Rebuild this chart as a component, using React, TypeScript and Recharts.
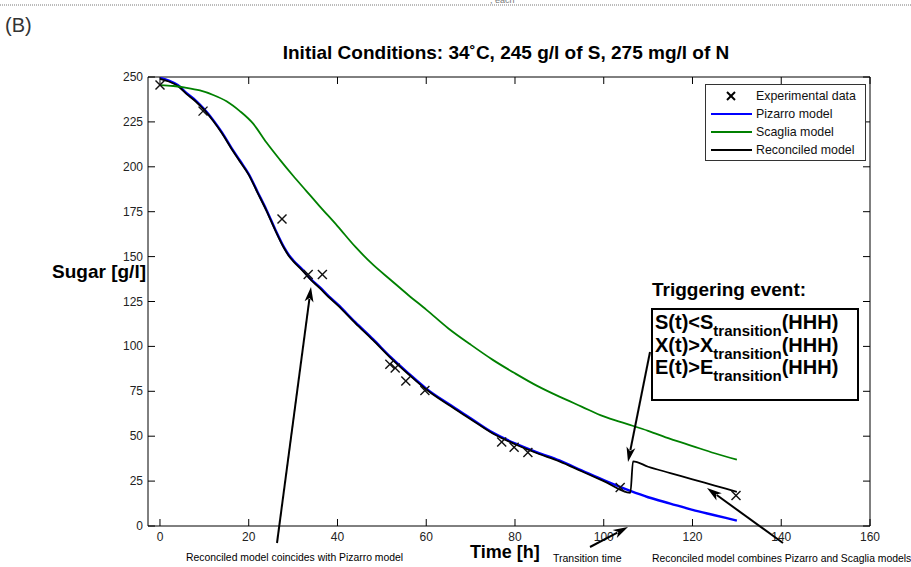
import React from 'react';
import { ComposedChart, Line, Scatter, XAxis, YAxis, ReferenceLine } from 'recharts';

// ---- data ----
const expT = [0, 9.7, 27.5, 33.4, 36.6, 51.8, 53, 55.4, 59.7, 77, 79.8, 82.9, 103.7, 129.8];
const expS = [245.5, 231, 171, 140, 140, 90, 88, 80.7, 75.5, 46.8, 43.9, 40.9, 21.5, 17];

const pizarroT = [0, 2, 4, 6, 8, 10, 12, 14, 16, 18, 20, 22, 24, 26, 28, 29, 30, 32, 34, 36, 38, 40, 44, 48, 52, 56, 60, 65, 70, 75, 80, 85, 90, 95, 100, 106, 110, 115, 120, 125, 130];
const pizarroS = [249.5, 248, 245.5, 241, 237, 232, 226, 219, 211, 203.5, 196, 186, 176, 165, 155, 151, 148, 143, 137.5, 133, 128, 123.5, 113.5, 104, 94, 85, 76.5, 68, 60, 52, 46, 41, 36.5, 31, 25.5, 19.5, 16, 12.5, 9, 6, 3];

const scagliaT = [0, 3, 6, 9, 12, 15, 18, 21, 24, 27, 30, 33, 36, 40, 44, 48, 52, 56, 60, 65, 70, 75, 80, 85, 90, 95, 100, 105, 110, 115, 120, 125, 130];
const scagliaS = [245.5, 245, 244, 242.5, 240, 236.5, 231, 224, 213.5, 204, 195, 186.5, 178, 167, 155.5, 145.5, 137, 128.5, 120.5, 110, 101, 92.5, 85, 78, 72, 66.5, 61, 57, 53, 48.5, 44.5, 40.5, 37];

const reconT = [0, 2, 4, 6, 8, 10, 12, 14, 16, 18, 20, 22, 24, 26, 28, 29, 30, 32, 34, 36, 38, 40, 44, 48, 52, 56, 60, 65, 70, 75, 80, 85, 90, 95, 100, 106, 106.6, 110, 115, 120, 125, 130];
const reconS = [249, 247.5, 245, 240.5, 236.5, 231.5, 225.5, 218.5, 210.5, 203, 195.5, 185.5, 175.5, 164.5, 154.5, 150.5, 147.5, 142.5, 137, 132.5, 127.5, 123, 113, 103.5, 93.5, 84.5, 76, 67.5, 59.5, 51.5, 45.5, 40.5, 36, 30.5, 25, 18.5, 36, 33, 29.5, 26, 22.5, 19];

const xTicks = [0, 20, 40, 60, 80, 100, 120, 140, 160];
const yTicks = [0, 25, 50, 75, 100, 125, 150, 175, 200, 225, 250];

const zip = (t: number[], s: number[]) => t.map((x, i) => ({ x, y: s[i] }));
const expData = zip(expT, expS);
const pizarroData = zip(pizarroT, pizarroS);
const scagliaData = zip(scagliaT, scagliaS);
const reconData = zip(reconT, reconS);

// ---- layout ----
const W = 911, H = 567;
const M = { top: 77, right: 41, bottom: 11, left: 98 };
const Y_W = 50, X_H = 30;
const PLOT_LEFT = M.left + Y_W;
const PLOT_RIGHT = W - M.right;
const PLOT_TOP = M.top;
const PLOT_BOTTOM = H - M.bottom - X_H;
const FONT = '"Liberation Sans", Arial, Helvetica, sans-serif';
const TL = 7;

const XTick = (props: any) => {
  const { x, payload } = props;
  return (
    <g>
      <line x1={x} x2={x} y1={PLOT_BOTTOM} y2={PLOT_BOTTOM - TL} stroke="#000" />
      <line x1={x} x2={x} y1={PLOT_TOP} y2={PLOT_TOP + TL} stroke="#000" />
      <text x={x} y={PLOT_BOTTOM + 15} textAnchor="middle" fontSize={12} fill="#222" fontFamily={FONT}>
        {payload.value}
      </text>
    </g>
  );
};

const YTick = (props: any) => {
  const { y, payload } = props;
  return (
    <g>
      <line x1={PLOT_LEFT} x2={PLOT_LEFT + TL} y1={y} y2={y} stroke="#000" />
      <line x1={PLOT_RIGHT} x2={PLOT_RIGHT - TL} y1={y} y2={y} stroke="#000" />
      <text x={PLOT_LEFT - 5} y={y + 4} textAnchor="end" fontSize={12} fill="#222" fontFamily={FONT}>
        {payload.value}
      </text>
    </g>
  );
};

const XMark = (props: any) => {
  const { cx, cy } = props;
  const r = 4.5;
  return (
    <g stroke="#111" strokeWidth={1.4}>
      <line x1={cx - r} y1={cy - r} x2={cx + r} y2={cy + r} />
      <line x1={cx - r} y1={cy + r} x2={cx + r} y2={cy - r} />
    </g>
  );
};

const legendItems = [
  { label: 'Experimental data', type: 'x', color: '#000' },
  { label: 'Pizarro model', type: 'line', color: '#0000ff' },
  { label: 'Scaglia model', type: 'line', color: '#008000' },
  { label: 'Reconciled model', type: 'line', color: '#000' },
];

const LegendBox = ({ x, y }: { x: number; y: number }) => (
  <g transform={`translate(${x},${y})`}>
    <rect x={0.5} y={0.5} width={160} height={76} fill="#fff" stroke="#333" />
    {legendItems.map((it, i) => {
      const cy = 12 + i * 18;
      return (
        <g key={it.label}>
          {it.type === 'x' ? (
            <g stroke="#000" strokeWidth={2}>
              <line x1={22} y1={cy - 4} x2={30} y2={cy + 4} />
              <line x1={22} y1={cy + 4} x2={30} y2={cy - 4} />
            </g>
          ) : (
            <line x1={6} x2={47} y1={cy} y2={cy} stroke={it.color} strokeWidth={2} />
          )}
          <text x={51} y={cy + 4} fontSize={12.4} fill="#111" fontFamily={FONT}>{it.label}</text>
        </g>
      );
    })}
  </g>
);

const Arrow = ({ x1, y1, x2, y2 }: { x1: number; y1: number; x2: number; y2: number }) => {
  const dx = x2 - x1, dy = y2 - y1;
  const len = Math.sqrt(dx * dx + dy * dy);
  const ux = dx / len, uy = dy / len;
  const hl = 15, hw = 4.5;
  const bx = x2 - ux * hl, by = y2 - uy * hl;
  const px = -uy, py = ux;
  return (
    <g>
      <line x1={x1} y1={y1} x2={bx + ux * 3} y2={by + uy * 3} stroke="#000" strokeWidth={2} />
      <polygon
        points={`${x2},${y2} ${bx + px * hw},${by + py * hw} ${bx + ux * 4},${by + uy * 4} ${bx - px * hw},${by - py * hw}`}
        fill="#000"
      />
    </g>
  );
};

const Overlay = () => (
  <svg width={W} height={H} style={{ position: 'absolute', left: 0, top: 0, pointerEvents: 'none' }}>
    <line x1={0} x2={W} y1={5} y2={5} stroke="#777" strokeDasharray="1,1" />
    <text x={490} y={3} fontSize={9} fill="#777" fontFamily={FONT}>, each</text>
    <text x={5} y={32} fontSize={20} fill="#333" fontFamily={FONT}>(B)</text>
    <text x={506} y={59} textAnchor="middle" fontSize={19} fontWeight="bold" fill="#000" fontFamily={FONT}>
      Initial Conditions: 34˚C, 245 g/l of S, 275 mg/l of N
    </text>
    <text x={146} y={278} textAnchor="end" fontSize={19} fontWeight="bold" fill="#000" fontFamily={FONT}>Sugar [g/l]</text>
    <text x={470} y={558} fontSize={18} fontWeight="bold" fill="#000" fontFamily={FONT}>Time [h]</text>
    <text x={186} y={561} fontSize={10.4} fill="#000" fontFamily={FONT}>Reconciled model coincides with Pizarro model</text>
    <text x={553} y={562} fontSize={10.5} fill="#000" fontFamily={FONT}>Transition time</text>
    <text x={652} y={562} fontSize={10.4} fill="#000" fontFamily={FONT}>Reconciled model combines Pizarro and Scaglia models</text>

    <LegendBox x={705} y={84} />

    <text x={652} y={296} fontSize={19} fontWeight="bold" fill="#000" fontFamily={FONT}>Triggering event:</text>
    <rect x={652} y={309} width={206} height={91} fill="#fff" stroke="#000" strokeWidth={2} />
    {[
      ['S(t)<S', 329],
      ['X(t)>X', 352],
      ['E(t)>E', 374],
    ].map(([a, yy]) => (
      <text key={a as string} x={655} y={yy as number} fontSize={20} fontWeight="bold" fill="#000" fontFamily={FONT}>
        {a as string}
        <tspan dy={7} fontSize={15}>transition</tspan>
        <tspan dy={-7} fontSize={20}>(HHH)</tspan>
      </text>
    ))}

    <Arrow x1={277} y1={543} x2={311} y2={287} />
    <Arrow x1={650} y1={352} x2={628} y2={462} />
    <Arrow x1={590} y1={547} x2={628} y2={527} />
    <Arrow x1={783} y1={543} x2={707} y2={488} />
  </svg>
);

export default function App() {
  return (
    <div style={{ position: 'absolute', left: 0, top: 0, width: W, height: H, background: '#fff' }}>
      <ComposedChart width={W} height={H} margin={M}>
        <XAxis
          dataKey="x"
          type="number"
          domain={[-2.7, 160]}
          ticks={xTicks}
          allowDataOverflow
          height={X_H}
          tickLine={false}
          tickSize={0}
          tick={<XTick />}
          axisLine={{ stroke: '#000' }}
          interval={0}
        />
        <YAxis
          type="number"
          domain={[0, 250]}
          ticks={yTicks}
          allowDataOverflow
          width={Y_W}
          tickLine={false}
          tickSize={0}
          tick={<YTick />}
          axisLine={{ stroke: '#000' }}
          interval={0}
        />
        <ReferenceLine y={250} stroke="#000" />
        <ReferenceLine x={160} stroke="#000" />
        <Line data={pizarroData} dataKey="y" type="monotone" stroke="#0000ff" strokeWidth={2.4} dot={false} isAnimationActive={false} name="Pizarro model" />
        <Line data={reconData} dataKey="y" type="monotone" stroke="#000" strokeWidth={1.8} dot={false} isAnimationActive={false} name="Reconciled model" />
        <Line data={scagliaData} dataKey="y" type="monotone" stroke="#008000" strokeWidth={1.8} dot={false} isAnimationActive={false} name="Scaglia model" />
        <Scatter data={expData} dataKey="y" shape={<XMark />} isAnimationActive={false} name="Experimental data" />
      </ComposedChart>
      <Overlay />
    </div>
  );
}
